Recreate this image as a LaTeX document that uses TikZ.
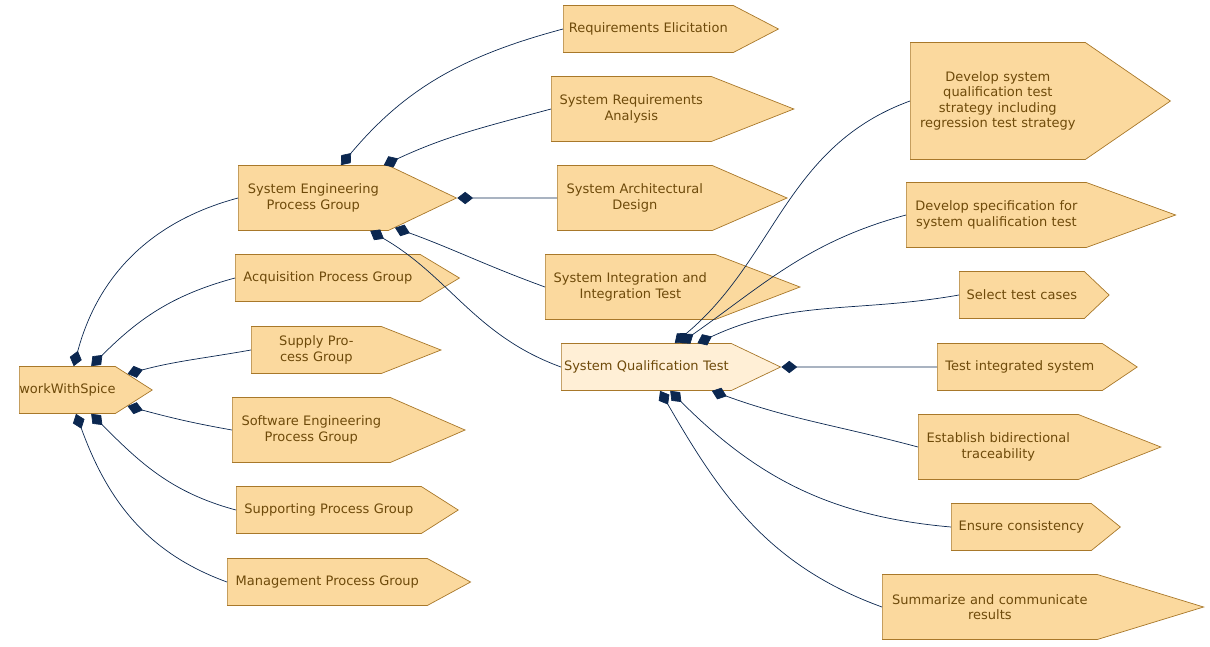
\documentclass[tikz,border=0pt]{standalone}
\usepackage{fontspec}
\setmainfont{DejaVu Sans}
\usetikzlibrary{shapes.symbols,arrows.meta}
\definecolor{grpfill}{HTML}{FBD99E}
\definecolor{grpline}{HTML}{A8782A}
\definecolor{grptext}{HTML}{6E4A0A}
\definecolor{curfill}{HTML}{FFEFD6}
\definecolor{edgecol}{HTML}{0B2750}
\tikzset{
  grp/.style={signal, signal to=east, draw=grpline, fill=grpfill,
    text=grptext, align=center, font=\fontsize{7.4}{8.8}\selectfont, anchor=west,
    minimum height=0.94cm, inner xsep=0pt},
  tall/.style={minimum height=1.3cm},
  comp/.style={draw=edgecol, {Diamond[length=9pt,width=7pt]}-}
}
\begin{document}
\begin{tikzpicture}[x=0.02cm,y=-0.02cm]
  \useasboundingbox (0,0) rectangle (1210,646);
  % root and process groups
  \node[grp, text width=1.92cm, signal pointer angle=65] (wws) at (19,390) {workWithSpice};
  \node[grp, tall, text width=3cm, signal pointer angle=51] (sepg) at (238,198) {System Engineering\\Process Group};
  \node[grp, text width=3.7cm, signal pointer angle=62] (acq) at (235,278) {Acquisition Process Group};
  \node[grp, text width=2.6cm, signal pointer angle=43] (sup) at (251,350) {Supply Process Group};
  \node[grp, tall, text width=3.16cm, signal pointer angle=47] (swe) at (232,430) {Software Engineering\\Process Group};
  \node[grp, text width=3.7cm, signal pointer angle=65] (supp) at (236,510) {Supporting Process Group};
  \node[grp, text width=4cm, signal pointer angle=57] (man) at (227,582) {Management Process Group};
  % system engineering processes
  \node[grp, text width=3.4cm, signal pointer angle=55] (reqel) at (563,29) {Requirements Elicitation};
  \node[grp, tall, text width=3.2cm, signal pointer angle=43] (sysreq) at (551,109) {System Requirements\\Analysis};
  \node[grp, tall, text width=3.1cm, signal pointer angle=47] (sysarch) at (557,198) {System Architectural\\Design};
  \node[grp, tall, text width=3.4cm, signal pointer angle=42] (sysint) at (545,287) {System Integration and\\Integration Test};
  \node[grp, fill=curfill, text width=3.4cm, signal pointer angle=51] (sqt) at (561,367) {System Qualification Test};
  % base practices
  \node[grp, minimum height=2.34cm, text width=3.5cm, signal pointer angle=69] (strat) at (910,101) {Develop system\\qualification test\\strategy including\\regression test strategy};
  \node[grp, tall, text width=3.6cm, signal pointer angle=40] (spec) at (906,215) {Develop specification for\\system qualification test};
  \node[grp, text width=2.5cm, signal pointer angle=87] (sel) at (959,295) {Select test cases};
  \node[grp, text width=3.3cm, signal pointer angle=68] (tst) at (937,367) {Test integrated system};
  \node[grp, tall, text width=3.2cm, signal pointer angle=43] (trace) at (918,447) {Establish bidirectional\\traceability};
  \node[grp, text width=2.8cm, signal pointer angle=78] (cons) at (951,527) {Ensure consistency};
  \node[grp, tall, text width=4.3cm, signal pointer angle=34] (summ) at (882,607) {Summarize and communicate\\results};
  % connectors
  \draw[comp] (wws) to[out=75,in=195] (sepg.west);
  \draw[comp] (wws) to[out=45,in=195] (acq.west);
  \draw[comp] (wws) to[out=15,in=190] (sup.west);
  \draw[comp] (wws) to[out=-15,in=170] (swe.west);
  \draw[comp] (wws) to[out=-45,in=165] (supp.west);
  \draw[comp] (wws) to[out=-70,in=160] (man.west);
  \draw[comp] (sepg) to[out=50,in=195] (reqel.west);
  \draw[comp] (sepg) to[out=25,in=195] (sysreq.west);
  \draw[comp] (sepg) to[out=0,in=180] (sysarch.west);
  \draw[comp] (sepg) to[out=-20,in=160] (sysint.west);
  \draw[comp] (sepg) to[out=-30,in=160] (sqt.west);
  \draw[comp] (sqt) to[out=40,in=200] (strat.west);
  \draw[comp] (sqt) to[out=35,in=195] (spec.west);
  \draw[comp] (sqt) to[out=25,in=190] (sel.west);
  \draw[comp] (sqt) to[out=0,in=180] (tst.west);
  \draw[comp] (sqt) to[out=-20,in=165] (trace.west);
  \draw[comp] (sqt) to[out=-45,in=175] (cons.west);
  \draw[comp] (sqt) to[out=-60,in=160] (summ.west);
\end{tikzpicture}
\end{document}
